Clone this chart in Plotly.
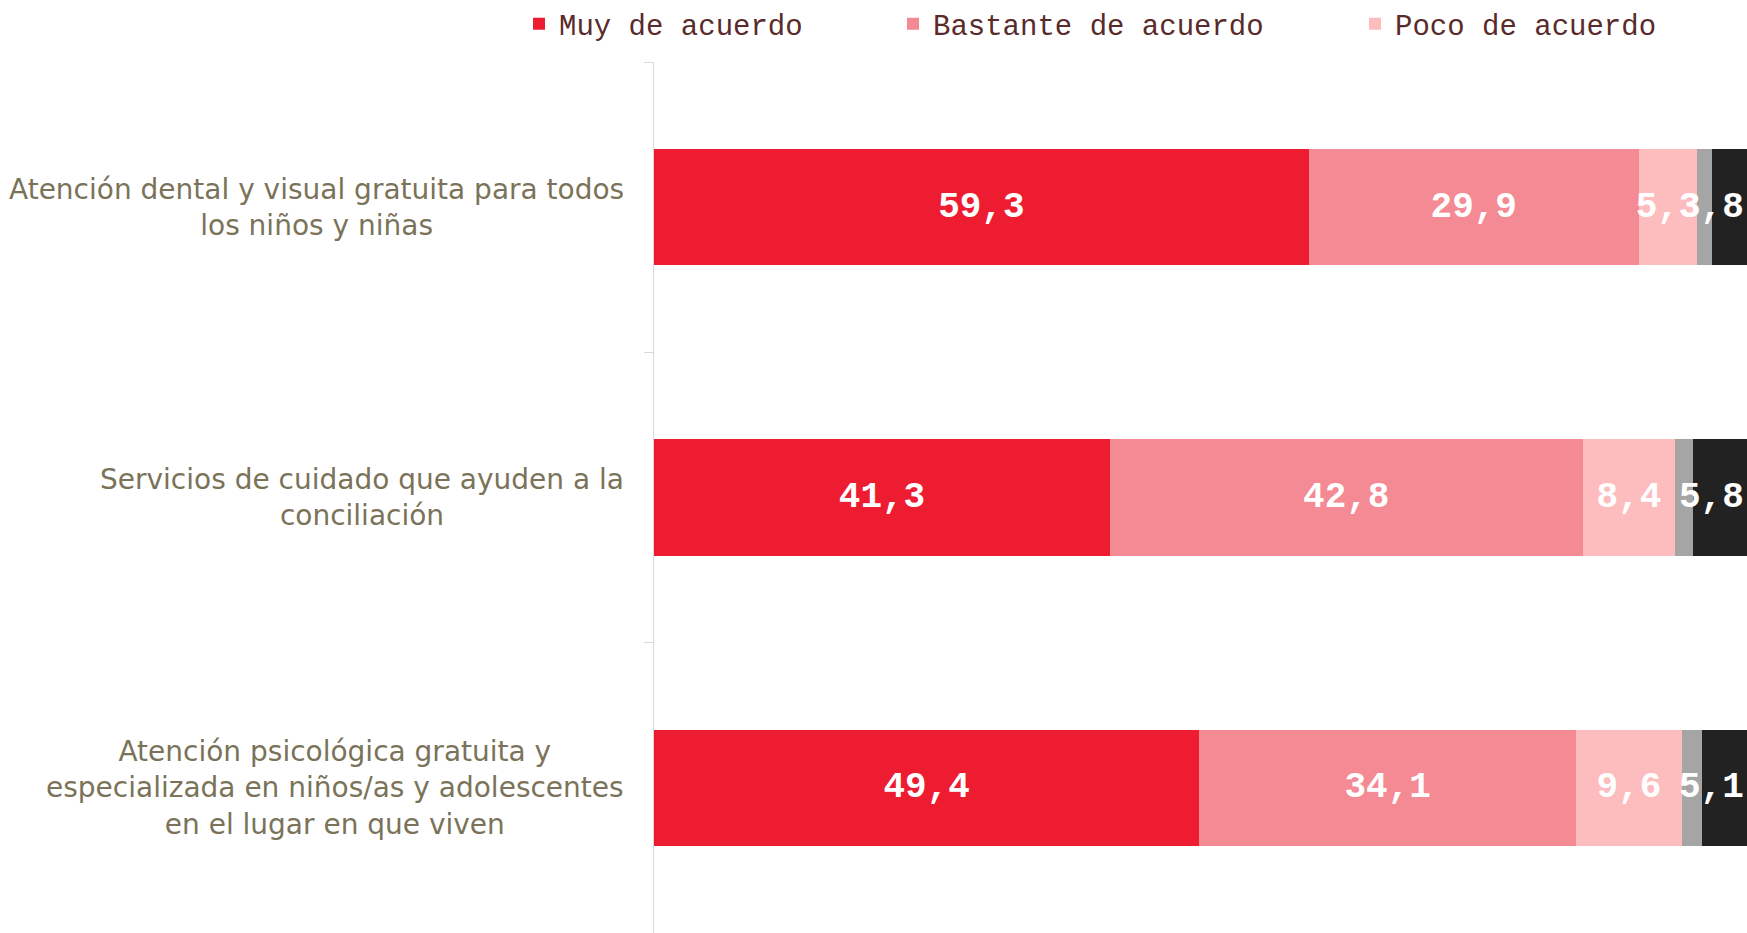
import plotly.graph_objects as go

# --------------------------------------------------
# Data (percentages)
# --------------------------------------------------
categories = [
    "Atención dental y visual gratuita para todos<br>los niños y niñas",
    "Servicios de cuidado que ayuden a la<br>conciliación",
    "Atención psicológica gratuita y<br>especializada en niños/as y adolescentes<br>en el lugar en que viven",
]
muy = [59.3, 41.3, 49.4]
bastante = [29.9, 42.8, 34.1]
poco = [5.3, 8.4, 9.6]
nada = [1.3, 1.6, 1.8]
nsnc = [3.8, 5.8, 5.1]

series = [
    ("Muy de acuerdo", muy, "#EE1C30", True),
    ("Bastante de acuerdo", bastante, "#F48A94", True),
    ("Poco de acuerdo", poco, "#FDBDBE", True),
    ("Nada de acuerdo", nada, "#A5A5A5", False),
    ("NS/NC", nsnc, "#222222", False),
]

mono = "Courier New, Liberation Mono, monospace"
sans = "DejaVu Sans, Arial, sans-serif"
x_max = 99.0  # chart is cut at the right edge


def fmt(v):
    return f"{v:.1f}".replace(".", ",")


fig = go.Figure()
legend_ids = ["legend", "legend2", "legend3"]
for i, (name, vals, color, labelled) in enumerate(series):
    fig.add_trace(go.Bar(
        y=categories,
        x=vals,
        name=name,
        orientation="h",
        marker=dict(color=color, line=dict(width=0)),
        text=[fmt(v) for v in vals] if labelled else None,
        textposition="inside" if labelled else "none",
        insidetextanchor="middle",
        textangle=0,
        constraintext="none",
        textfont=dict(family=mono, size=36, color="white", weight="bold"),
        showlegend=i < 3,
        legend=legend_ids[i] if i < 3 else "legend",
        hoverinfo="x+name",
    ))

# black segment labels get pushed inside the visible area
for cat, v in zip(categories, nsnc):
    fig.add_annotation(
        x=x_max, y=cat, xref="x", yref="y",
        text=fmt(v), showarrow=False, xanchor="right", xshift=-1,
        font=dict(family=mono, size=36, color="white", weight="bold"),
    )

# category labels (centered lines, right-aligned block)
for cat in categories:
    fig.add_annotation(
        x=0, y=cat, xref="paper", yref="y",
        text=cat, showarrow=False, xanchor="right", xshift=-28,
        align="center",
        font=dict(family=sans, size=28, color="#7A7359"),
    )

legend_font = dict(family=mono, size=29, color="#592B2B")
legend_x = [519, 893, 1355]
legend_cfg = {}
for lid, lx in zip(legend_ids, legend_x):
    legend_cfg[lid] = dict(
        orientation="h", xref="container", yref="container",
        x=lx / 1747, y=1 - 24 / 933, xanchor="left", yanchor="middle",
        font=legend_font, bgcolor="rgba(0,0,0,0)", itemwidth=30,
    )

fig.update_layout(
    barmode="stack",
    bargap=0.6,
    width=1747,
    height=933,
    margin=dict(l=654, r=0, t=62, b=0),
    plot_bgcolor="white",
    paper_bgcolor="white",
    showlegend=True,
    xaxis=dict(range=[0, x_max], visible=False, fixedrange=True),
    yaxis=dict(
        autorange="reversed",
        showticklabels=False,
        showline=True, linecolor="#D9D9D9", linewidth=1,
        ticks="outside", tickson="boundaries", ticklen=9, tickcolor="#D9D9D9",
        showgrid=False, zeroline=False,
    ),
    **legend_cfg,
)

# drop the default page margin so the 1747x933 figure fills the window
fig.write_html(
    "out.html",
    config={"displayModeBar": False},
    post_script="document.body.style.margin='0';",
)
